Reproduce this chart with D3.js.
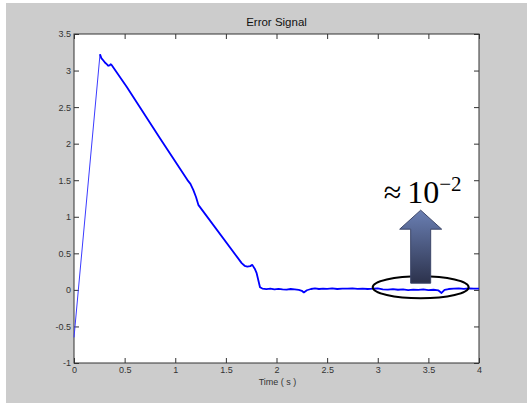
<!DOCTYPE html>
<html lang="en">
<head>
    <meta charset="UTF-8">
    <title>Error Signal</title>
    <script src="https://d3js.org/d3.v7.min.js"></script>
    <style>
        body { margin: 0; background: #fff; }
        .tick text { font-family: "Liberation Sans", Arial, sans-serif; font-size: 9px; fill: #333; }
        .tick line { stroke: #333; }
    </style>
</head>
<body>
    <svg width="527" height="404" id="chart"></svg>
    <script>
        const svg = d3.select("#chart");
        const width = 527;
        const height = 404;

        // signal (time in s, error)
        const time = [0, 0.043, 0.257, 0.27, 0.29, 0.305, 0.323, 0.339, 0.352, 0.362, 0.375,
            0.52, 0.849, 1.119, 1.15, 1.178, 1.205, 1.228, 1.656, 1.685, 1.712, 1.74, 1.761, 1.785, 1.804, 1.837,
            1.86, 1.9, 1.94, 1.98, 2.02, 2.06, 2.1, 2.14, 2.18, 2.22, 2.25, 2.27, 2.3, 2.34, 2.38, 2.42, 2.46,
            2.5, 2.55, 2.6, 2.65, 2.7, 2.75, 2.8, 2.85, 2.9, 2.95, 3.0, 3.05, 3.1, 3.15, 3.2, 3.25, 3.3, 3.35,
            3.4, 3.45, 3.5, 3.55, 3.6, 3.63, 3.66, 3.7, 3.75, 3.8, 3.85, 3.9, 3.95, 4.0];
        const error = [-0.65, 0, 3.224, 3.17, 3.137, 3.11, 3.087, 3.066, 3.07, 3.087, 3.07,
            2.78, 2.075, 1.505, 1.45, 1.368, 1.27, 1.163, 0.366, 0.33, 0.319, 0.325, 0.342, 0.29, 0.228, 0.037,
            0.018, 0.01, 0.016, 0.006, 0.014, 0.008, 0.004, 0.012, 0.006, 0.0, -0.012, -0.035, -0.005, 0.012,
            0.02, 0.012, 0.018, 0.014, 0.02, 0.012, 0.018, 0.016, 0.02, 0.014, 0.018, 0.012, 0.016, 0.022,
            0.008, 0.004, 0.01, 0.002, 0.006, -0.002, 0.004, 0.0, 0.006, -0.002, 0.002, -0.008, -0.042,
            0.0, 0.012, 0.016, 0.02, 0.014, 0.02, 0.016, 0.018];

        const xTicks = [0, 0.5, 1, 1.5, 2, 2.5, 3, 3.5, 4];
        const yTicks = [-1, -0.5, 0, 0.5, 1, 1.5, 2, 2.5, 3, 3.5];

        const margin = { top: 34, right: 48, bottom: 41, left: 74 };
        const plotW = width - margin.left - margin.right;
        const plotH = height - margin.top - margin.bottom;

        // figure background
        svg.append("rect").attr("x", 6).attr("y", 3).attr("width", width - 6).attr("height", height - 4).attr("fill", "#cccccc");

        const g = svg.append("g").attr("transform", `translate(${margin.left},${margin.top})`);
        g.append("rect").attr("width", plotW).attr("height", plotH).attr("fill", "#fff");

        const x = d3.scaleLinear().domain([0, 4]).range([0, plotW]);
        const y = d3.scaleLinear().domain([-1, 3.5]).range([plotH, 0]);

        const fmt = d => String(d);

        g.append("g").attr("transform", `translate(0,${plotH})`)
            .call(d3.axisBottom(x).tickValues(xTicks).tickSize(-5).tickPadding(4).tickFormat(fmt))
            .call(a => a.select(".domain").remove());
        g.append("g")
            .call(d3.axisTop(x).tickValues(xTicks).tickSize(-5).tickFormat(""))
            .call(a => a.select(".domain").remove());
        g.append("g")
            .call(d3.axisLeft(y).tickValues(yTicks).tickSize(-5).tickPadding(3).tickFormat(fmt))
            .call(a => a.select(".domain").remove());
        g.append("g").attr("transform", `translate(${plotW},0)`)
            .call(d3.axisRight(y).tickValues(yTicks).tickSize(-5).tickFormat(""))
            .call(a => a.select(".domain").remove());

        g.append("rect").attr("width", plotW).attr("height", plotH)
            .attr("fill", "none").attr("stroke", "#333").attr("stroke-width", 1);

        const pts = time.map((t, i) => ({ t, v: error[i] }));
        const line = d3.line().x(d => x(d.t)).y(d => y(d.v));

        // thin rising ramp, thicker (noisy) remainder
        g.append("path").datum(pts.filter(d => d.t <= 0.257))
            .attr("d", line).attr("fill", "none").attr("stroke", "#3b3bff").attr("stroke-width", 1);
        g.append("path").datum(pts.filter(d => d.t >= 0.257))
            .attr("d", line).attr("fill", "none").attr("stroke", "#0000ff").attr("stroke-width", 1.8)
            .attr("stroke-linejoin", "round");

        // title and axis label
        svg.append("text").attr("x", margin.left + plotW / 2).attr("y", 26)
            .attr("text-anchor", "middle").attr("font-family", "Liberation Sans, Arial, sans-serif")
            .attr("font-size", "11.5px").attr("fill", "#111").text("Error Signal");
        svg.append("text").attr("x", margin.left + plotW / 2 + 1).attr("y", 385)
            .attr("text-anchor", "middle").attr("font-family", "Liberation Sans, Arial, sans-serif")
            .attr("font-size", "9px").attr("fill", "#333").text("Time ( s )");

        // annotation: ellipse, arrow, text
        const defs = svg.append("defs");
        const grad = defs.append("linearGradient").attr("id", "arrowGrad")
            .attr("x1", 0).attr("y1", 0).attr("x2", 0).attr("y2", 1);
        grad.append("stop").attr("offset", "0%").attr("stop-color", "#6a7fb3");
        grad.append("stop").attr("offset", "100%").attr("stop-color", "#2c324c");

        const cx = x(3.424), cy = y(0.037);
        g.append("ellipse").attr("cx", cx).attr("cy", cy).attr("rx", 48).attr("ry", 11)
            .attr("fill", "none").attr("stroke", "#000").attr("stroke-width", 2);

        const ax = cx;
        const arrow = [
            [ax - 10, cy - 4], [ax - 10, cy - 58], [ax - 21, cy - 58], [ax, cy - 77],
            [ax + 21, cy - 58], [ax + 10, cy - 58], [ax + 10, cy - 4]
        ];
        g.append("path").attr("d", d3.line()(arrow) + "Z")
            .attr("fill", "url(#arrowGrad)").attr("stroke", "#3c4668").attr("stroke-width", 1);

        const ann = g.append("text").attr("x", cx - 37).attr("y", cy - 84)
            .attr("font-family", "Liberation Serif, Times New Roman, serif").attr("fill", "#000");
        ann.append("tspan").attr("font-size", "32px").text("≈");
        ann.append("tspan").attr("font-size", "32px").attr("dx", 6).text("10");
        ann.append("tspan").attr("font-size", "21px").attr("dy", -12).text("−2");
    </script>
</body>
</html>
